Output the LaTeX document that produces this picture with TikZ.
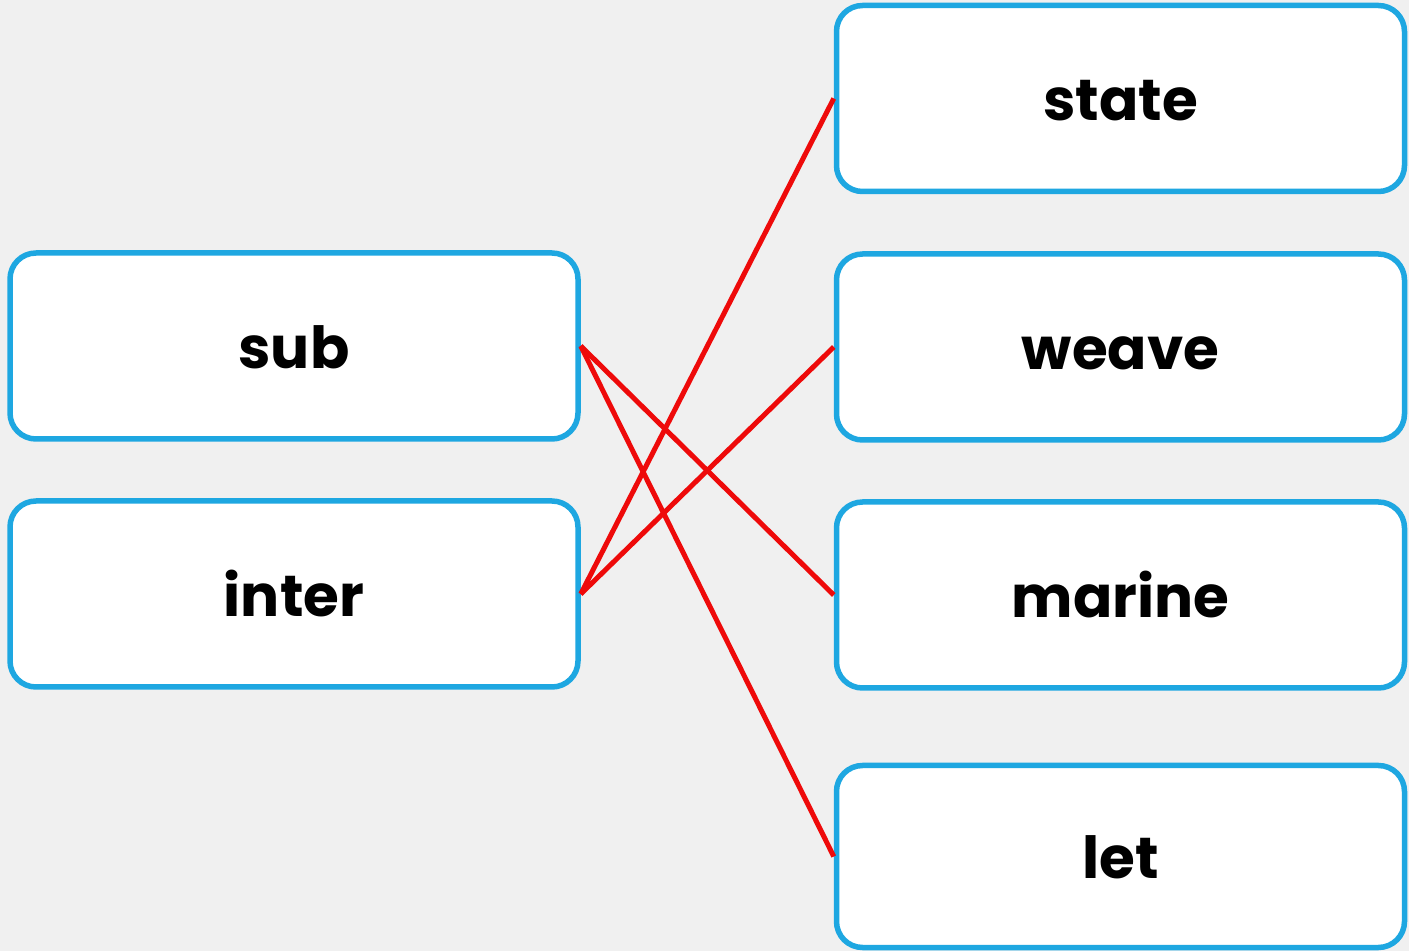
\documentclass[tikz,border=0pt]{standalone}
\usepackage{fontspec}
\setmainfont{Poppins}
\definecolor{bg}{HTML}{F0F0F0}
\definecolor{boxblue}{HTML}{1EA7E1}
\definecolor{linered}{HTML}{EE0A0A}
\begin{document}
\begin{tikzpicture}[x=1pt,y=1pt,
  wordbox/.style={draw=boxblue, line width=5.5pt, fill=white, rounded corners=26pt,
    minimum width=568pt, minimum height=186pt, inner sep=0pt,
    font=\fontsize{58}{70}\selectfont\bfseries, text height=45pt, text depth=0pt},
  link/.style={draw=linered, line width=5pt}]
\fill[bg] (0,0) rectangle (1409,951);
\useasboundingbox (0,0) rectangle (1409,951);
\node[wordbox] (sub)    at (294,605)    {sub};
\node[wordbox] (inter)  at (294,357)    {inter};
\node[wordbox] (state)  at (1120.5,852.5) {state};
\node[wordbox] (weave)  at (1120.5,604)   {weave};
\node[wordbox] (marine) at (1120.5,356)   {marine};
\node[wordbox, minimum height=182pt] (let) at (1120.5,94.5) {let};
\draw[link] (sub.east) -- (marine.west);
\draw[link] (sub.east) -- (let.west);
\draw[link] (inter.east) -- (state.west);
\draw[link] (inter.east) -- (weave.west);
\end{tikzpicture}
\end{document}
